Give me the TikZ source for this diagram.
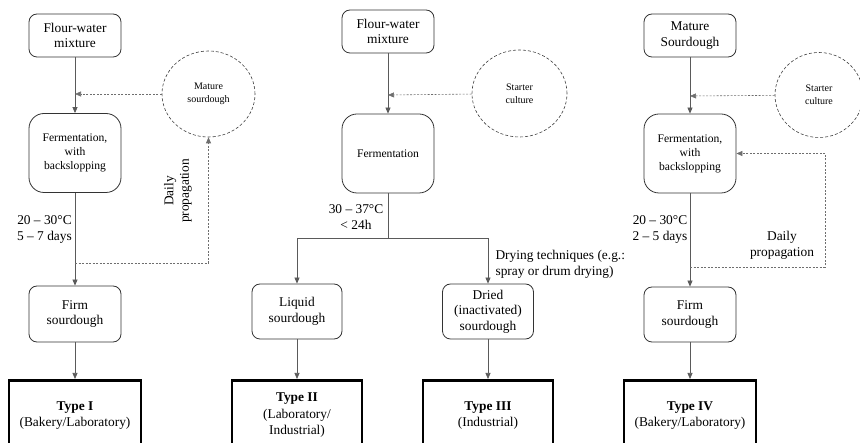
\documentclass[tikz,border=0pt]{standalone}
\usepackage{fontspec}
\setmainfont{Liberation Serif}
\usepackage{tikz}
\usetikzlibrary{arrows.meta, positioning, shapes.geometric, calc}
\definecolor{linegray}{RGB}{90,90,90}
\definecolor{dashgray}{RGB}{110,110,110}

\begin{document}
\begin{tikzpicture}[x=1pt, y=-1pt,
  every node/.style={font=\fontsize{13.4}{15.5}\selectfont, align=center},
  stepbox/.style={draw=black!80, rectangle, rounded corners=8pt, line width=0.8pt, minimum width=92pt},
  fermbox/.style={stepbox, rounded corners=15pt, minimum height=79pt, font=\fontsize{11.6}{14}\selectfont},
  typebox/.style={draw=black, rectangle, line width=2.6pt, minimum width=132pt, minimum height=70pt, anchor=north, font=\fontsize{13.4}{16.3}\selectfont},
  culture/.style={draw=black!75, ellipse, dash pattern=on 3pt off 2pt, line width=0.6pt, minimum width=93pt, minimum height=86pt, font=\fontsize{10}{13}\selectfont},
  arr/.style={draw=linegray, line width=0.7pt, -{Triangle[length=6pt, width=5pt]}},
  darr/.style={draw=dashgray, line width=0.6pt, dash pattern=on 2pt off 1.5pt, -{Triangle[length=6pt, width=5pt]}}
]
  \useasboundingbox (0,0) rectangle (860,443);
  \clip (0,0) rectangle (860,443);

  % Type I
  \node[stepbox, minimum height=43pt] (flour1) at (75,35.5) {Flour-water\\mixture};
  \node[culture] (mature1) at (208.5,94) {Mature\\sourdough};
  \node[fermbox] (ferm1) at (75,153) {Fermentation,\\with\\backslopping};
  \node[stepbox, minimum height=56pt] (firm1) at (75,314) {Firm\\sourdough};
  \node[typebox] (type1) at (75,379) {\textbf{Type I}\\(Bakery/Laboratory)};
  \node (cond1) at (44.5,229.5) {20 -- 30°C\\5 -- 7 days};
  \node[rotate=90] (prop1) at (178,191) {Daily\\propagation};
  \coordinate (in1) at (75,94);
  \coordinate (out1) at (75,263);

  \draw[arr] (flour1) -- (ferm1);
  \draw[darr] (mature1) -- (in1);
  \draw[arr] (ferm1) -- (firm1);
  \draw[darr] (out1) -| (mature1.south);
  \draw[arr] (firm1) -- (type1);

  % Type II and III
  \node[stepbox, minimum height=43pt] (flour2) at (388,31.5) {Flour-water\\mixture};
  \node[culture, minimum width=95pt, minimum height=87pt] (starter2) at (519.5,93.5) {Starter\\culture};
  \node[fermbox, font=\fontsize{11.6}{14}\selectfont] (ferm2) at (388,153.5) {Fermentation};
  \node[stepbox, minimum width=90pt, minimum height=55pt] (liquid2) at (297,311.5) {Liquid\\sourdough};
  \node[stepbox, minimum width=91pt, minimum height=55pt] (dried2) at (488,311.5) {Dried\\(inactivated)\\sourdough};
  \node[typebox, minimum width=130pt] (type2) at (297,379) {\textbf{Type II}\\(Laboratory/\\Industrial)};
  \node[typebox, minimum width=130pt] (type3) at (488,379) {\textbf{Type III}\\(Industrial)};
  \node (cond2) at (356,217) {30 -- 37°C\\< 24h};
  \node[anchor=west, align=left] (drying) at (492,264.5) {Drying techniques (e.g.:\\spray or drum drying)};
  \coordinate (in2) at (388,95);
  \coordinate (split2) at (388,238);

  \draw[arr] (flour2) -- (ferm2);
  \draw[darr] (starter2) -- (in2);
  \draw[draw=linegray, line width=0.7pt] (ferm2) -- (split2);
  \draw[arr] (split2) -| (liquid2);
  \draw[arr] (split2) -| (dried2);
  \draw[arr] (liquid2) -- (type2);
  \draw[arr] (dried2) -- (type3);

  % Type IV
  \node[stepbox, minimum height=43pt] (mature4) at (690,35.5) {Mature\\Sourdough};
  \node[culture, minimum width=88pt, minimum height=85pt] (starter4) at (819,95) {Starter\\culture};
  \node[fermbox] (ferm4) at (690,153.5) {Fermentation,\\with\\backslopping};
  \node[stepbox, minimum height=55pt] (firm4) at (690,314.5) {Firm\\sourdough};
  \node[typebox] (type4) at (690,379) {\textbf{Type IV}\\(Bakery/Laboratory)};
  \node (cond4) at (660,229.5) {20 -- 30°C\\2 -- 5 days};
  \node (prop4) at (782,245.5) {Daily\\propagation};
  \coordinate (in4) at (690,96);
  \coordinate (out4) at (690,267);
  \coordinate (turn4) at (825,267);

  \draw[arr] (mature4) -- (ferm4);
  \draw[darr] (starter4) -- (in4);
  \draw[arr] (ferm4) -- (firm4);
  \draw[darr] (out4) -- (turn4) |- (ferm4.east);
  \draw[arr] (firm4) -- (type4);
\end{tikzpicture}
\end{document}
